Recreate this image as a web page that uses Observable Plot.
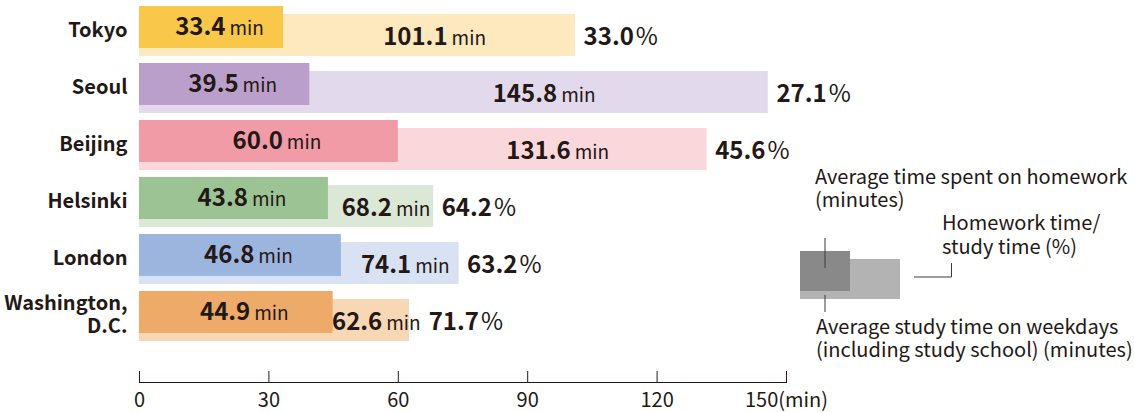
<!DOCTYPE html>
<html><head><meta charset="utf-8">
<script src="https://cdn.jsdelivr.net/npm/d3@7"></script>
<script src="https://cdn.jsdelivr.net/npm/@observablehq/plot@0.6"></script>
<style>
body{margin:0;background:#fff;}
#wrap{position:relative;width:1134px;height:412px;overflow:hidden;}
#wrap svg{display:block;}
#legend{position:absolute;left:0;top:0;pointer-events:none;}
</style></head><body><div id="wrap"></div>
<script>
const cities = ["Tokyo", "Seoul", "Beijing", "Helsinki", "London", "Washington,\nD.C."];
const homework = [33.4, 39.5, 60.0, 43.8, 46.8, 44.9];
const study = [101.1, 145.8, 131.6, 68.2, 74.1, 62.6];
const ratio = [33.0, 27.1, 45.6, 64.2, 63.2, 71.7];
const darkColors = ["#f9c84b", "#ba9fca", "#f19ba7", "#9bc393", "#9cb5df", "#eeaa68"];
const lightColors = ["#fee9be", "#e3d9ec", "#f9d7db", "#dbe8d5", "#d9e2f3", "#f8d7b4"];
const xTicks = [0, 30, 60, 90, 120, 150];
const xTickLabels = ["0", "30", "60", "90", "120", "150(min)"];

const data = cities.map((c, i) => ({city: c, hw: homework[i], st: study[i], pct: ratio[i], dark: darkColors[i], light: lightColors[i]}));
const FONT = '"Noto Sans CJK JP", "Noto Sans", sans-serif';
const INK = "#231815";

const plot = Plot.plot({
  width: 1134, height: 412,
  marginLeft: 139, marginRight: 348, marginTop: 0, marginBottom: 30,
  style: {fontFamily: FONT, color: INK, background: "#fff", overflow: "visible"},
  x: {domain: [0, 150]},
  y: {type: "band", domain: cities, range: [10, 337], paddingInner: 15 / 57, paddingOuter: 0},
  color: {type: "identity"},
  marks: [
    Plot.barX(data, {y: "city", x1: 0, x2: "st", fill: "light", dy: 4}),
    Plot.barX(data, {y: "city", x1: 0, x2: "hw", fill: "dark", dy: -4}),
    Plot.text(data, {y: "city", x: d => d.hw / 2, text: d => `${d.hw.toFixed(1)} min`, dx: 8, dy: -4,
      className: "lab-dark", fontSize: 24, fontWeight: 700, fill: INK}),
    Plot.text(data, {y: "city", x: d => (d.hw + d.st) / 2, text: d => `${d.st.toFixed(1)} min`, dx: 5, dy: 6,
      className: "lab-light", fontSize: 24, fontWeight: 700, fill: INK}),
    Plot.text(data, {y: "city", x: "st", text: d => `${d.pct.toFixed(1)}%`, dx: 8, dy: 6, textAnchor: "start",
      className: "lab-pct", fontSize: 24, fontWeight: 700, fill: INK}),
    Plot.axisY({tickSize: 0, tickPadding: 12, fontSize: 20, fontWeight: 700, label: null, dy: -2, lineHeight: 1.15, fill: INK}),
    Plot.axisX({ticks: xTicks, tickSize: -11, tickFormat: () => "", label: null, stroke: INK}),
    Plot.axisX({ticks: xTicks, tickSize: 0, tickPadding: 10, fontSize: 20, label: null, fill: INK,
      tickFormat: d => xTickLabels[xTicks.indexOf(d)]}),
    Plot.frame({anchor: "bottom", stroke: INK})
  ]
});

const wrap = document.getElementById("wrap");
wrap.appendChild(plot);

const NS = "http://www.w3.org/2000/svg";
// mixed-weight labels: bold number, regular unit
plot.querySelectorAll(".lab-dark text, .lab-light text").forEach(t => {
  const [num, unit] = t.textContent.split(" ");
  t.textContent = "";
  const a = document.createElementNS(NS, "tspan");
  a.textContent = num;
  const b = document.createElementNS(NS, "tspan");
  b.textContent = unit; b.setAttribute("dx", "4"); b.setAttribute("font-weight", "400"); b.setAttribute("font-size", "19");
  t.appendChild(a); t.appendChild(b);
});
const lightTexts = Array.from(plot.querySelectorAll(".lab-light text"));
plot.querySelectorAll(".lab-pct text").forEach((t, i) => {
  const num = t.textContent.replace("%", "");
  t.textContent = "";
  const a = document.createElementNS(NS, "tspan");
  a.textContent = num;
  const b = document.createElementNS(NS, "tspan");
  b.textContent = "%"; b.setAttribute("dx", "2"); b.setAttribute("font-weight", "400");
  t.appendChild(a); t.appendChild(b);
  // keep the percentage clear of an overflowing value label
  const lb = lightTexts[i] && lightTexts[i].getBoundingClientRect();
  const pb = t.getBoundingClientRect();
  if (lb && lb.right + 8 > pb.left) {
    const shift = lb.right + 8 - pb.left;
    const tr = t.getAttribute("transform") || "";
    t.setAttribute("transform", tr + ` translate(${shift},0)`);
  }
});

// explanatory legend
const legend = `
<svg id="legend" width="1134" height="412" xmlns="http://www.w3.org/2000/svg" font-family='${FONT}' fill="${INK}" font-size="20">
  <rect x="800" y="259" width="100" height="40" fill="#b3b3b3"/>
  <rect x="800" y="251" width="50" height="40" fill="#898989"/>
  <line x1="825" y1="238" x2="825" y2="268" stroke="#3a3a3a" stroke-width="1"/>
  <line x1="825" y1="295" x2="825" y2="312" stroke="#3a3a3a" stroke-width="1"/>
  <polyline points="914,277 951.5,277 951.5,263" fill="none" stroke="#3a3a3a" stroke-width="1"/>
  <text x="815" y="184">Average time spent on homework</text>
  <text x="815" y="207">(minutes)</text>
  <text x="942" y="230">Homework time/</text>
  <text x="942" y="254">study time (%)</text>
  <text x="816" y="334">Average study time on weekdays</text>
  <text x="816" y="357">(including study school) (minutes)</text>
</svg>`;
wrap.insertAdjacentHTML("beforeend", legend);
</script>
</body></html>
